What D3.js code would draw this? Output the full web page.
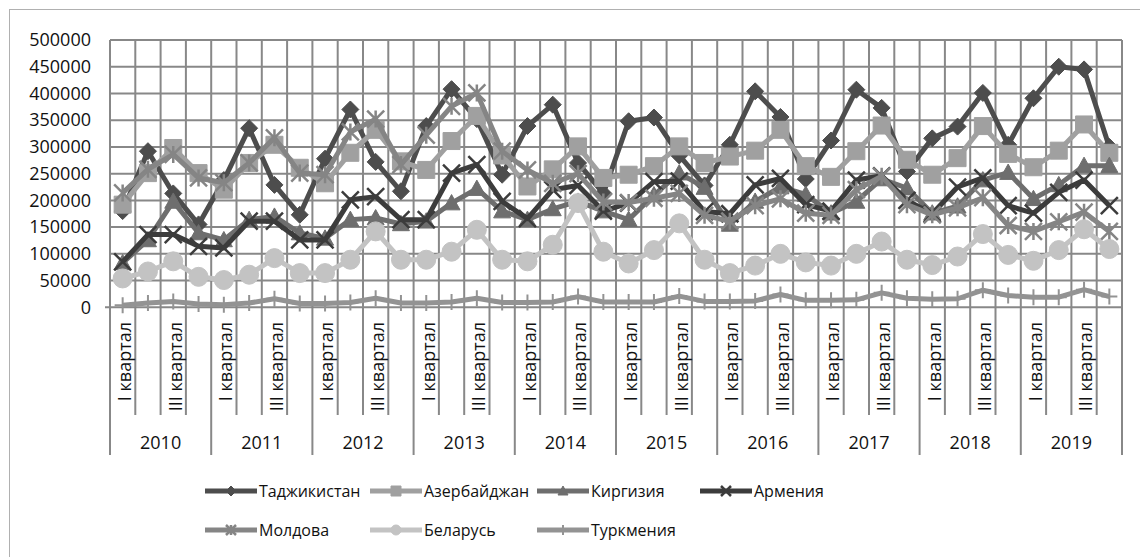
<!DOCTYPE html>
<html>
<head>
<meta charset="utf-8">
<script src="https://cdn.jsdelivr.net/npm/d3@7"></script>
<style>
  body { margin: 0; background: #fff; }
  svg { display: block; font-family: "Open Sans", sans-serif; }
</style>
</head>
<body>
<div id="chart"></div>
<script>
var years = ['2010', '2011', '2012', '2013', '2014', '2015', '2016', '2017', '2018', '2019'];
var quarters = ['I квартал', 'II квартал', 'III квартал', 'IV квартал'];
var yTicks = [0, 50000, 100000, 150000, 200000, 250000, 300000, 350000, 400000, 450000, 500000];

var seriesNames = ['Таджикистан', 'Азербайджан', 'Киргизия', 'Армения', 'Молдова', 'Беларусь', 'Туркмения'];

var tajikistan = [180000, 292000, 213000, 155000, 238000, 335000, 229000, 173000, 278000, 370000,
                  272000, 217000, 339000, 408000, 352000, 248000, 339000, 379000, 270000, 213000,
                  348000, 355000, 284000, 228000, 304000, 404000, 356000, 240000, 312000, 407000,
                  373000, 254000, 316000, 338000, 401000, 304000, 391000, 450000, 445000, 300000];
var azerbaijan = [192000, 251000, 298000, 251000, 220000, 270000, 304000, 261000, 232000, 289000,
                  332000, 273000, 257000, 311000, 358000, 284000, 226000, 258000, 301000, 242000,
                  248000, 264000, 301000, 270000, 282000, 293000, 332000, 264000, 244000, 292000,
                  340000, 276000, 248000, 279000, 339000, 287000, 262000, 293000, 342000, 289000];
var kyrgyzstan = [83000, 126000, 198000, 139000, 126000, 164000, 170000, 139000, 129000, 164000,
                  167000, 156000, 161000, 195000, 222000, 180000, 164000, 184000, 198000, 180000,
                  164000, 210000, 251000, 224000, 155000, 198000, 225000, 211000, 176000, 198000,
                  240000, 223000, 176000, 189000, 238000, 252000, 203000, 229000, 265000, 265000];
var armenia = [85000, 136000, 136000, 114000, 111000, 161000, 161000, 126000, 126000, 201000,
               207000, 164000, 164000, 251000, 267000, 198000, 166000, 220000, 228000, 180000,
               195000, 235000, 236000, 179000, 175000, 229000, 241000, 192000, 180000, 238000,
               246000, 200000, 175000, 225000, 242000, 190000, 176000, 215000, 238000, 190000];
var moldova = [214000, 258000, 286000, 242000, 233000, 270000, 317000, 251000, 248000, 328000,
               352000, 267000, 322000, 376000, 401000, 292000, 257000, 232000, 250000, 197000,
               196000, 204000, 213000, 172000, 161000, 190000, 203000, 176000, 172000, 220000,
               245000, 192000, 173000, 186000, 205000, 153000, 142000, 160000, 178000, 142000];
var belarus = [54000, 67000, 86000, 57000, 51000, 61000, 92000, 64000, 64000, 89000,
               142000, 89000, 89000, 104000, 145000, 89000, 86000, 117000, 195000, 104000,
               82000, 107000, 157000, 89000, 64000, 78000, 100000, 84000, 78000, 100000,
               123000, 89000, 79000, 95000, 137000, 98000, 87000, 107000, 146000, 109000];
var turkmenistan = [4000, 8000, 11000, 6000, 5000, 8000, 16000, 7000, 7000, 9000,
                    17000, 8000, 8000, 10000, 17000, 9000, 9000, 10000, 20000, 10000,
                    10000, 10000, 21000, 11000, 11000, 12000, 24000, 13000, 13000, 14000,
                    27000, 17000, 15000, 16000, 32000, 22000, 19000, 19000, 33000, 20000];

var seriesValues = [tajikistan, azerbaijan, kyrgyzstan, armenia, moldova, belarus, turkmenistan];

// look of each series: colour + marker kind
var seriesColors = ['#4d4d4d', '#a0a0a0', '#6e6e6e', '#3c3c3c', '#858585', '#c3c3c3', '#939393'];
var seriesMarkers = ['diamond', 'square', 'triangle', 'x', 'star', 'circle', 'plus'];

var categories = [];
years.forEach(function(y) {
  quarters.forEach(function(q) { categories.push({ year: y, quarter: q }); });
});

var svgWidth = 1140;
var svgHeight = 557;
var plotLeft = 110, plotRight = 1122, plotTop = 40, plotBottom = 307.3;
var gridColor = '#888';

var svg = d3.select('#chart')
  .append('svg')
  .attr('width', svgWidth)
  .attr('height', svgHeight);

// chart frame
svg.append('rect')
  .attr('x', 9.5).attr('y', 9.5)
  .attr('width', 1300).attr('height', 700)
  .attr('fill', 'none')
  .attr('stroke', '#b0b0b0')
  .attr('stroke-width', 1);

var x = d3.scaleBand()
  .domain(d3.range(categories.length))
  .range([plotLeft, plotRight])
  .paddingInner(0).paddingOuter(0);
var bw = x.bandwidth();
function cx(i) { return x(i) + bw / 2; }

var y = d3.scaleLinear()
  .domain([0, 500000])
  .range([plotBottom, plotTop]);

// horizontal gridlines + y labels
svg.append('g').selectAll('line')
  .data(yTicks)
  .enter().append('line')
  .attr('x1', function(d) { return d === 0 ? plotLeft - 5 : plotLeft; })
  .attr('x2', plotRight)
  .attr('y1', function(d) { return y(d); })
  .attr('y2', function(d) { return y(d); })
  .attr('stroke', gridColor)
  .attr('stroke-width', 2);

svg.append('g').selectAll('text')
  .data(yTicks)
  .enter().append('text')
  .attr('x', 91)
  .attr('y', function(d) { return y(d); })
  .attr('dy', '0.35em')
  .attr('text-anchor', 'end')
  .attr('font-size', 18)
  .attr('fill', '#111')
  .text(function(d) { return d; });

// vertical gridlines / category separators (long ones at year borders)
var bounds = d3.range(categories.length + 1);
svg.append('g').selectAll('line')
  .data(bounds)
  .enter().append('line')
  .attr('x1', function(k) { return plotLeft + k * bw; })
  .attr('x2', function(k) { return plotLeft + k * bw; })
  .attr('y1', plotTop)
  .attr('y2', function(k) { return k % 4 === 0 ? 455 : 415; })
  .attr('stroke', gridColor)
  .attr('stroke-width', 2);

// quarter labels (every other one, like excel)
svg.append('g').selectAll('text')
  .data(categories.filter(function(d, i) { return i % 2 === 0; }))
  .enter().append('text')
  .attr('transform', function(d) {
    var i = categories.indexOf(d);
    return 'translate(' + (cx(i) + 2) + ',322) rotate(-90)';
  })
  .attr('dy', '0.35em')
  .attr('text-anchor', 'end')
  .attr('font-size', 18)
  .attr('fill', '#111')
  .text(function(d) { return d.quarter; });

// year labels
svg.append('g').selectAll('text')
  .data(years)
  .enter().append('text')
  .attr('x', function(d, j) { return x(j * 4) + bw * 2; })
  .attr('y', 443)
  .attr('dy', '0.35em')
  .attr('text-anchor', 'middle')
  .attr('font-size', 18)
  .attr('fill', '#111')
  .text(function(d) { return d; });

function markerPath(kind, r) {
  if (kind === 'diamond') return 'M0,' + (-r) + 'L' + r + ',0L0,' + r + 'L' + (-r) + ',0Z';
  if (kind === 'square') return 'M' + (-r) + ',' + (-r) + 'h' + 2 * r + 'v' + 2 * r + 'h' + (-2 * r) + 'Z';
  if (kind === 'triangle') return 'M0,' + (-r) + 'L' + r + ',' + (r * 0.8) + 'L' + (-r) + ',' + (r * 0.8) + 'Z';
  if (kind === 'x') return 'M' + (-r) + ',' + (-r) + 'L' + r + ',' + r + 'M' + r + ',' + (-r) + 'L' + (-r) + ',' + r;
  if (kind === 'star') return 'M' + (-r) + ',' + (-r) + 'L' + r + ',' + r + 'M' + r + ',' + (-r) + 'L' + (-r) + ',' + r +
                              'M0,' + (-r) + 'V' + r;
  if (kind === 'plus') return 'M0,' + (-r) + 'V' + r + 'M' + (-r) + ',0H' + r;
  // circle
  return d3.symbol().type(d3.symbolCircle).size(Math.PI * r * r)();
}
var strokeOnly = { x: true, star: true, plus: true };

function drawMarker(sel, kind, color, r) {
  sel.attr('d', markerPath(kind, r));
  if (strokeOnly[kind]) {
    sel.attr('fill', 'none').attr('stroke', color).attr('stroke-width', kind === 'plus' ? 2 : 2.5);
  } else {
    sel.attr('fill', color).attr('stroke', color).attr('stroke-width', 1);
  }
}

var line = d3.line()
  .x(function(d, i) { return cx(i); })
  .y(function(d) { return y(d); });

seriesValues.forEach(function(vals, s) {
  var g = svg.append('g');
  g.append('path')
    .attr('d', line(vals))
    .attr('fill', 'none')
    .attr('stroke', seriesColors[s])
    .attr('stroke-width', 5)
    .attr('stroke-linejoin', 'round');
  var r = seriesMarkers[s] === 'plus' ? 8 : (seriesMarkers[s] === 'circle' ? 9.5 : 8.5);
  g.selectAll('.m')
    .data(vals)
    .enter().append('path')
    .attr('class', 'm')
    .attr('transform', function(d, i) { return 'translate(' + cx(i) + ',' + y(d) + ')'; })
    .each(function() { drawMarker(d3.select(this), seriesMarkers[s], seriesColors[s], r); });
});

// legend
var legendX = [205, 370, 537, 700];
var legendY = [491, 530];
var legend = svg.selectAll('.legend')
  .data(seriesNames)
  .enter().append('g')
  .attr('class', 'legend')
  .attr('transform', function(d, i) {
    return 'translate(' + legendX[i % 4] + ',' + legendY[Math.floor(i / 4)] + ')';
  });

legend.append('line')
  .attr('x1', 0).attr('x2', 52)
  .attr('stroke', function(d, i) { return seriesColors[i]; })
  .attr('stroke-width', 5);

legend.append('path')
  .attr('transform', 'translate(26,0)')
  .each(function(d, i) { drawMarker(d3.select(this), seriesMarkers[i], seriesColors[i], 5); });

legend.append('text')
  .attr('x', 54)
  .attr('dy', '0.35em')
  .attr('font-size', 16)
  .attr('fill', '#111')
  .text(function(d) { return d; });
</script>
</body>
</html>
